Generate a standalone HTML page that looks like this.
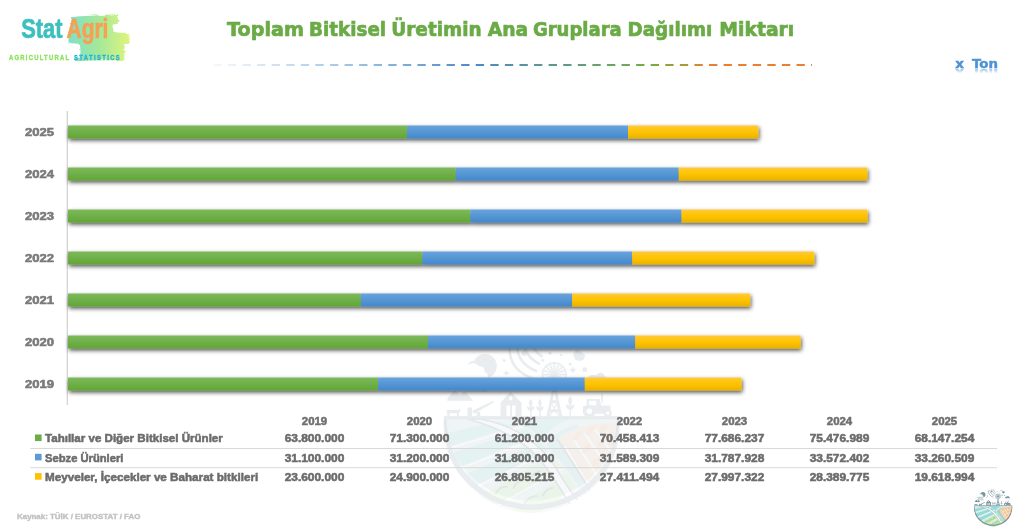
<!DOCTYPE html>
<html lang="tr">
<head>
<meta charset="utf-8">
<title>Toplam Bitkisel Üretimin Ana Gruplara Dağılımı Miktarı</title>
<style>
html,body{margin:0;padding:0;background:#fff;}
body{width:1024px;height:532px;overflow:hidden;position:relative;font-family:"DejaVu Sans", "Liberation Sans", sans-serif;}
svg{position:absolute;left:0;top:0;display:block;}
text{font-family:"DejaVu Sans", "Liberation Sans", sans-serif;font-weight:bold;}
.lib{font-family:"Liberation Sans", sans-serif;}
</style>
</head>
<body>
<svg width="1024" height="532" viewBox="0 0 1024 532">
<defs>
<linearGradient id="gG" x1="0" y1="0" x2="0" y2="1"><stop offset="0" stop-color="#7db95b"/><stop offset="1" stop-color="#61a636"/></linearGradient>
<linearGradient id="gB" x1="0" y1="0" x2="0" y2="1"><stop offset="0" stop-color="#68a4dd"/><stop offset="1" stop-color="#4388cb"/></linearGradient>
<linearGradient id="gY" x1="0" y1="0" x2="0" y2="1"><stop offset="0" stop-color="#ffc937"/><stop offset="0.5" stop-color="#ffc400"/><stop offset="1" stop-color="#e9b100"/></linearGradient>
<linearGradient id="gLine" gradientUnits="userSpaceOnUse" x1="212" y1="0" x2="812" y2="0">
<stop offset="0" stop-color="#5b9bd5" stop-opacity="0.06"/>
<stop offset="0.44" stop-color="#4a8ac9" stop-opacity="1"/>
<stop offset="0.725" stop-color="#70ad47"/>
<stop offset="0.785" stop-color="#a89a35"/>
<stop offset="0.825" stop-color="#ed7d31"/>
<stop offset="1" stop-color="#ed7d31"/>
</linearGradient>
<linearGradient id="gBrush" x1="0" y1="0" x2="1" y2="0"><stop offset="0" stop-color="#7fe0c8"/><stop offset="0.5" stop-color="#a5e89a"/><stop offset="1" stop-color="#def57c"/></linearGradient>
<filter id="sh" x="-5%" y="-60%" width="110%" height="240%"><feGaussianBlur in="SourceAlpha" stdDeviation="2.1"/><feOffset dx="0.7" dy="1.9" result="o"/><feComponentTransfer><feFuncA type="linear" slope="0.68"/></feComponentTransfer><feMerge><feMergeNode/><feMergeNode in="SourceGraphic"/></feMerge></filter>
<filter id="rough" x="-5%" y="-5%" width="110%" height="110%"><feTurbulence type="fractalNoise" baseFrequency="0.09 0.35" numOctaves="2" seed="7" result="n"/><feDisplacementMap in="SourceGraphic" in2="n" scale="3" xChannelSelector="R" yChannelSelector="G"/></filter>
<linearGradient id="gRef" x1="0" y1="0" x2="0" y2="1"><stop offset="0" stop-color="#fff" stop-opacity="0.6"/><stop offset="0.45" stop-color="#fff" stop-opacity="0"/></linearGradient>
<mask id="mRef"><rect x="940" y="68.6" width="80" height="11" fill="url(#gRef)"/></mask>

<symbol id="emblem" viewBox="0 0 200 200">
<clipPath id="cAll"><circle cx="100" cy="100" r="96"/></clipPath>
<clipPath id="cLow"><path d="M0 94 H200 V200 H0 Z"/></clipPath>
<g clip-path="url(#cAll)">
<g fill="#6f8a96" stroke="none">
<!-- moon with cloud, upper left -->
<circle cx="49" cy="36" r="13"/>
<path d="M18 50 q-5 -1 -3 -6 q1 -5 7 -4 q2 -8 10 -7 q6 -4 11 2 q7 0 7 7 q5 2 3 8 z" fill="#fff" stroke="#6f8a96" stroke-width="2.4"/>
<path d="M22 62 q3 -8 11 -6 q6 -5 11 1 q6 0 6 6 z" fill="#fff" stroke="#6f8a96" stroke-width="2.2"/>
<!-- hills / trees left -->
<path d="M6 74 L16 62 L22 68 L27 63 L36 74 Z"/>
<!-- circles and cloud right -->
<circle cx="152" cy="24" r="6.500"/>
<circle cx="158" cy="40" r="2.600"/>
<path d="M160 52 q2 -8 10 -6 q5 -6 11 0 q7 0 7 7 q0 2 -2 2 h-26z"/>
<path d="M136 14 h10 v2.400 h-10z"/>
<!-- swirl arcs -->
<g fill="none" stroke="#6f8a96" stroke-width="2.800">
<path d="M76 16 q-1 24 26 34"/>
<path d="M84 13 q0 20 22 29"/>
<path d="M92 11 q1 15 17 23"/>
<path d="M100 10 q2 10 12 16"/>
</g>
<circle cx="92" cy="22" r="3"/>
<!-- stars -->
<circle cx="120" cy="22" r="1.800"/><circle cx="112" cy="30" r="1.500"/><circle cx="70" cy="30" r="1.600"/><circle cx="142" cy="34" r="1.600"/><circle cx="66" cy="52" r="1.800"/><circle cx="132" cy="24" r="1.400"/><circle cx="148" cy="52" r="1.500"/><circle cx="74" cy="44" r="1.300"/>
<path d="M145 36 l1.200 3 l3 1.200 l-3 1.200 l-1.200 3 l-1.200 -3 l-3 -1.200 l3 -1.200z M72 40 l1 2.600 l2.600 1 l-2.600 1 l-1 2.600 l-1 -2.600 l-2.600 -1 l2.600 -1z"/>
<!-- barn -->
<path d="M66 92 V76 L77 64 L89 76 V92 Z"/>
<rect x="72.500" y="79" width="4" height="13" fill="#fff"/><rect x="78.500" y="79" width="4" height="13" fill="#fff"/>
<rect x="75.500" y="69" width="3.400" height="4.400" fill="#fff"/>
<!-- farmer with plough + cow -->
<path d="M7 84 h13 l2 -1.500 v4 h-1.500 v5.500 h-2 v-4.500 h-8 v4.500 h-2 z"/>
<path d="M30 92 v-9 q2 -4 5 -1 v10z M35 85 L58 74 L59 75.500 L37 88Z M40 86 h4 v6 h-4z"/>
<!-- wheat stalks -->
<g>
<rect x="98.300" y="78" width="1.600" height="14"/><path d="M99 72 q4 4 0 9 q-4 -5 0 -9z M95 80 q4 0 4 5 q-4 0 -4 -5z M103 80 q-4 0 -4 5 q4 0 4 -5z"/>
<rect x="108.300" y="78" width="1.600" height="14"/><path d="M109 72 q4 4 0 9 q-4 -5 0 -9z M105 80 q4 0 4 5 q-4 0 -4 -5z M113 80 q-4 0 -4 5 q4 0 4 -5z"/>
<rect x="141.300" y="76" width="1.600" height="16"/><path d="M142 69 q4.500 5 0 10 q-4.500 -5 0 -10z M137.500 78 q4.500 0 4.500 5.500 q-4.500 0 -4.500 -5.500z M146.500 78 q-4.500 0 -4.500 5.500 q4.500 0 4.500 -5.500z"/>
</g>
<!-- windmill -->
<path d="M116 92 L123 58 H126.500 L133.500 92 H130.500 L124.750 64 L119 92Z"/>
<path d="M118.500 84 H131 V86 H118.500z M120.500 74 H129 V76 H120.500z M119 92 L129 75 M130.500 92 L120.500 75" stroke="#6f8a96" stroke-width="1.200"/>
<circle cx="124.750" cy="45.500" r="13" fill="#d9f1ef" stroke="#6f8a96" stroke-width="1.600"/>
<path d="M124.750 32.500 V58.500 M111.750 45.500 H137.750 M115.550 36.300 L133.950 54.700 M133.950 36.300 L115.550 54.700 M119.800 33.500 L129.700 57.500 M129.700 33.500 L119.800 57.500 M112.750 40.500 L136.750 50.500 M136.750 40.500 L112.750 50.500" stroke="#6f8a96" stroke-width="1.300"/>
<circle cx="124.750" cy="45.500" r="3"/>
<!-- tractor -->
<path d="M156 88 V80 L160 79 V72 H174 L176 79 H186 V88Z"/>
<rect x="162.500" y="74" width="8" height="5" fill="#fff"/>
<circle cx="163" cy="85.500" r="7"/><circle cx="163" cy="85.500" r="3" fill="#fff"/>
<circle cx="183" cy="87.500" r="4.500"/><circle cx="183" cy="87.500" r="1.800" fill="#fff"/>
<rect x="176" y="66" width="1.800" height="10"/>
</g>
<!-- horizon -->
<rect x="0" y="90.500" width="200" height="3.800" fill="#6f8a96"/>
<!-- fields -->
<g clip-path="url(#cLow)">
<rect x="0" y="94" width="200" height="106" fill="#d3e5e4"/>
<g fill="#8ad9d3">
<path d="M4 110 L60 97 L84 101 L8 124Z"/>
<path d="M10 132 L94 105 L104 112 L18 148Z"/>
<path d="M24 156 L110 119 L118 127 L36 170Z"/>
</g>
<g fill="none" stroke="#fff" stroke-width="2.400">
<path d="M6 127 L90 102 M14 151 L106 115 M30 172 L120 130"/>
</g>
<g fill="#b4e596">
<path d="M44 178 L122 134 L132 146 L64 190Z"/>
<path d="M76 196 L138 154 L148 168 L104 200Z"/>
</g>
<g fill="none" stroke="#6f8a96" stroke-width="1.800">
<path d="M60 176 q6 -10 14 -8 M80 170 q4 -10 12 -10 M98 160 q4 -9 12 -9 M92 186 q6 -9 14 -8 M112 178 q4 -9 12 -9"/>
</g>
<g fill="none" stroke="#fff" stroke-width="2.200"><path d="M56 192 L134 148"/></g>
<!-- road -->
<path d="M44 94 Q100 104 128 150 T168 200 L150 200 Q136 176 118 150 Q92 110 30 94Z" fill="#fff" stroke="#6f8a96" stroke-width="1.600"/>
<!-- strip right of road -->
<path d="M70 94 L140 94 Q118 104 112 116 Q96 100 70 94Z" fill="#8ad9d3"/>
<path d="M116 122 Q128 104 150 100 L196 186 L170 198 Q150 160 116 122Z" fill="#8ad9d3" opacity="0.850"/>
<!-- wheat -->
<path d="M128 116 Q150 96 200 98 V170 L176 190 Z" fill="#f5cfa6"/>
<g fill="none" stroke="#fff" stroke-width="2.400">
<path d="M136 124 L168 176 M146 116 L182 172 M158 110 L192 160 M170 106 L198 146"/>
</g>
<g fill="#efb47c">
<ellipse cx="150" cy="112" rx="6.500" ry="2.800" transform="rotate(-50 150 112)"/>
<ellipse cx="164" cy="106" rx="6.500" ry="2.800" transform="rotate(-50 164 106)"/>
<ellipse cx="178" cy="104" rx="6.500" ry="2.800" transform="rotate(-50 178 104)"/>
<ellipse cx="160" cy="126" rx="6.500" ry="2.800" transform="rotate(-50 160 126)"/>
<ellipse cx="176" cy="120" rx="6.500" ry="2.800" transform="rotate(-50 176 120)"/>
<ellipse cx="188" cy="118" rx="6.500" ry="2.800" transform="rotate(-50 188 118)"/>
<ellipse cx="170" cy="140" rx="6.500" ry="2.800" transform="rotate(-50 170 140)"/>
<ellipse cx="184" cy="134" rx="6.500" ry="2.800" transform="rotate(-50 184 134)"/>
<ellipse cx="178" cy="156" rx="6.500" ry="2.800" transform="rotate(-50 178 156)"/>
</g>
<path d="M128 116 L176 190" fill="none" stroke="#6f8a96" stroke-width="2"/>
<path d="M4 94 A96 96 0 0 0 196 94" fill="none" stroke="#6f8a96" stroke-width="6"/>
</g>
</g>
</symbol>

</defs>
<path d="M443.9 418.5 A88 88 0 0 0 619.5 418.5 Z" fill="#6f8a96" opacity="0.07"/>
<use href="#emblem" x="440" y="333" width="183.3" height="183.3" opacity="0.15"/>
<g id="logo">
<path filter="url(#rough)" d="M71 17.2 L80 16.3 L95 15.4 L110 14.6 L118.2 14 L117.8 18 L118.5 21 L117.2 23.6 L113 24.4 L112.4 27 L114 29 L113 31.2 L117 32.6 L129 33 L130 36 L129.5 40 L128 43.4 L124 44 L124.8 48 L124.2 55 L124.5 60 L110 60.2 L90 60.5 L80 61 L74.5 61.2 L74.8 58.2 L80 57.6 L80.5 52 L80 44 L75 43.5 L68.3 43 L68.5 37 L70.5 36 L71 28 Z" fill="url(#gBrush)"/>
<text x="21.2" y="37.7" font-size="27.2" fill="#3dbfc0" stroke="#3dbfc0" stroke-width="0.7" stroke-linejoin="round" textLength="41.4" lengthAdjust="spacingAndGlyphs" class="lib">Stat</text>
<text x="66.6" y="37.7" font-size="27.2" fill="#f5a155" stroke="#f5a155" stroke-width="0.7" stroke-linejoin="round" textLength="41.8" lengthAdjust="spacingAndGlyphs" class="lib">Agri</text>
<g transform="translate(9,60) scale(0.76,1)"><text x="0" y="0" font-size="7.7" letter-spacing="1.68" fill="#86e255" stroke="#86e255" stroke-width="0.3" class="lib">AGRICULTURAL</text></g>
<g transform="translate(74,60) scale(0.76,1)"><text x="0" y="0" font-size="7.7" letter-spacing="1.82" fill="#1fb0dc" stroke="#1fb0dc" stroke-width="0.3" class="lib">STATISTICS</text></g>
</g>
<text y="35.5" font-size="19.9" fill="#6aab46" stroke="#6aab46" stroke-width="0.7"><tspan x="227.10" textLength="76.80" lengthAdjust="spacingAndGlyphs">Toplam</tspan> <tspan x="309.10" textLength="77.00" lengthAdjust="spacingAndGlyphs">Bitkisel</tspan> <tspan x="391.30" textLength="90.40" lengthAdjust="spacingAndGlyphs">Üretimin</tspan> <tspan x="487.70" textLength="40.60" lengthAdjust="spacingAndGlyphs">Ana</tspan> <tspan x="532.90" textLength="88.80" lengthAdjust="spacingAndGlyphs">Gruplara</tspan> <tspan x="627.50" textLength="84.80" lengthAdjust="spacingAndGlyphs">Dağılımı</tspan> <tspan x="719.30" textLength="75.00" lengthAdjust="spacingAndGlyphs">Miktarı</tspan></text>
<line x1="213.3" y1="65" x2="812" y2="65" stroke="url(#gLine)" stroke-width="2.08" stroke-dasharray="8.33 6.25"/>
<text y="68" font-size="12.4" fill="#4f93d4" stroke="#4f93d4" stroke-width="0.45"><tspan x="955.3" textLength="8.7" lengthAdjust="spacingAndGlyphs">x</tspan> <tspan x="972" textLength="26" lengthAdjust="spacingAndGlyphs">Ton</tspan></text>
<g mask="url(#mRef)"><g transform="translate(0,137.4) scale(1,-1)"><text y="68" font-size="12.4" fill="#4f93d4" stroke="#4f93d4" stroke-width="0.45"><tspan x="955.3" textLength="8.7" lengthAdjust="spacingAndGlyphs">x</tspan> <tspan x="972" textLength="26" lengthAdjust="spacingAndGlyphs">Ton</tspan></text></g></g>
<rect x="66.7" y="111" width="1.3" height="294" fill="#d4d4d4"/>
<g filter="url(#sh)">
<rect x="68.0" y="125.5" width="339.1" height="13" fill="url(#gG)"/>
<rect x="407.1" y="125.5" width="220.9" height="13" fill="url(#gB)"/>
<rect x="628.0" y="125.5" width="130.3" height="13" fill="url(#gY)"/>
</g>
<text x="25" y="136.2" font-size="11.4" fill="#7a7a7a" stroke="#7a7a7a" stroke-width="0.6" textLength="29" lengthAdjust="spacingAndGlyphs" class="lib">2025</text>
<g filter="url(#sh)">
<rect x="68.0" y="167.5" width="387.7" height="13" fill="url(#gG)"/>
<rect x="455.7" y="167.5" width="223.0" height="13" fill="url(#gB)"/>
<rect x="678.7" y="167.5" width="188.6" height="13" fill="url(#gY)"/>
</g>
<text x="25" y="178.2" font-size="11.4" fill="#7a7a7a" stroke="#7a7a7a" stroke-width="0.6" textLength="29" lengthAdjust="spacingAndGlyphs" class="lib">2024</text>
<g filter="url(#sh)">
<rect x="68.0" y="209.5" width="402.4" height="13" fill="url(#gG)"/>
<rect x="470.4" y="209.5" width="211.1" height="13" fill="url(#gB)"/>
<rect x="681.5" y="209.5" width="186.0" height="13" fill="url(#gY)"/>
</g>
<text x="25" y="220.2" font-size="11.4" fill="#7a7a7a" stroke="#7a7a7a" stroke-width="0.6" textLength="29" lengthAdjust="spacingAndGlyphs" class="lib">2023</text>
<g filter="url(#sh)">
<rect x="68.0" y="251.5" width="354.4" height="13" fill="url(#gG)"/>
<rect x="422.4" y="251.5" width="209.8" height="13" fill="url(#gB)"/>
<rect x="632.2" y="251.5" width="182.1" height="13" fill="url(#gY)"/>
</g>
<text x="25" y="262.2" font-size="11.4" fill="#7a7a7a" stroke="#7a7a7a" stroke-width="0.6" textLength="29" lengthAdjust="spacingAndGlyphs" class="lib">2022</text>
<g filter="url(#sh)">
<rect x="68.0" y="293.5" width="292.9" height="13" fill="url(#gG)"/>
<rect x="360.9" y="293.5" width="211.2" height="13" fill="url(#gB)"/>
<rect x="572.1" y="293.5" width="178.0" height="13" fill="url(#gY)"/>
</g>
<text x="25" y="304.2" font-size="11.4" fill="#7a7a7a" stroke="#7a7a7a" stroke-width="0.6" textLength="29" lengthAdjust="spacingAndGlyphs" class="lib">2021</text>
<g filter="url(#sh)">
<rect x="68.0" y="335.5" width="360.0" height="13" fill="url(#gG)"/>
<rect x="428.0" y="335.5" width="207.2" height="13" fill="url(#gB)"/>
<rect x="635.2" y="335.5" width="165.4" height="13" fill="url(#gY)"/>
</g>
<text x="25" y="346.2" font-size="11.4" fill="#7a7a7a" stroke="#7a7a7a" stroke-width="0.6" textLength="29" lengthAdjust="spacingAndGlyphs" class="lib">2020</text>
<g filter="url(#sh)">
<rect x="68.0" y="377.5" width="310.2" height="13" fill="url(#gG)"/>
<rect x="378.2" y="377.5" width="206.6" height="13" fill="url(#gB)"/>
<rect x="584.7" y="377.5" width="156.8" height="13" fill="url(#gY)"/>
</g>
<text x="25" y="388.2" font-size="11.4" fill="#7a7a7a" stroke="#7a7a7a" stroke-width="0.6" textLength="29" lengthAdjust="spacingAndGlyphs" class="lib">2019</text>
<text x="301.8" y="425" font-size="11.4" fill="#707070" stroke="#707070" stroke-width="0.55" textLength="25.4" lengthAdjust="spacingAndGlyphs" class="lib">2019</text>
<text x="284.7" y="442.0" font-size="11.4" fill="#6c6c6c" stroke="#6c6c6c" stroke-width="0.55" textLength="59.6" lengthAdjust="spacingAndGlyphs" class="lib">63.800.000</text>
<text x="284.7" y="461.8" font-size="11.4" fill="#6c6c6c" stroke="#6c6c6c" stroke-width="0.55" textLength="59.6" lengthAdjust="spacingAndGlyphs" class="lib">31.100.000</text>
<text x="284.7" y="480.6" font-size="11.4" fill="#6c6c6c" stroke="#6c6c6c" stroke-width="0.55" textLength="59.6" lengthAdjust="spacingAndGlyphs" class="lib">23.600.000</text>
<text x="406.8" y="425" font-size="11.4" fill="#707070" stroke="#707070" stroke-width="0.55" textLength="25.4" lengthAdjust="spacingAndGlyphs" class="lib">2020</text>
<text x="389.7" y="442.0" font-size="11.4" fill="#6c6c6c" stroke="#6c6c6c" stroke-width="0.55" textLength="59.6" lengthAdjust="spacingAndGlyphs" class="lib">71.300.000</text>
<text x="389.7" y="461.8" font-size="11.4" fill="#6c6c6c" stroke="#6c6c6c" stroke-width="0.55" textLength="59.6" lengthAdjust="spacingAndGlyphs" class="lib">31.200.000</text>
<text x="389.7" y="480.6" font-size="11.4" fill="#6c6c6c" stroke="#6c6c6c" stroke-width="0.55" textLength="59.6" lengthAdjust="spacingAndGlyphs" class="lib">24.900.000</text>
<text x="511.8" y="425" font-size="11.4" fill="#707070" stroke="#707070" stroke-width="0.55" textLength="25.4" lengthAdjust="spacingAndGlyphs" class="lib">2021</text>
<text x="494.7" y="442.0" font-size="11.4" fill="#6c6c6c" stroke="#6c6c6c" stroke-width="0.55" textLength="59.6" lengthAdjust="spacingAndGlyphs" class="lib">61.200.000</text>
<text x="494.7" y="461.8" font-size="11.4" fill="#6c6c6c" stroke="#6c6c6c" stroke-width="0.55" textLength="59.6" lengthAdjust="spacingAndGlyphs" class="lib">31.800.000</text>
<text x="494.7" y="480.6" font-size="11.4" fill="#6c6c6c" stroke="#6c6c6c" stroke-width="0.55" textLength="59.6" lengthAdjust="spacingAndGlyphs" class="lib">26.805.215</text>
<text x="616.8" y="425" font-size="11.4" fill="#707070" stroke="#707070" stroke-width="0.55" textLength="25.4" lengthAdjust="spacingAndGlyphs" class="lib">2022</text>
<text x="599.7" y="442.0" font-size="11.4" fill="#6c6c6c" stroke="#6c6c6c" stroke-width="0.55" textLength="59.6" lengthAdjust="spacingAndGlyphs" class="lib">70.458.413</text>
<text x="599.7" y="461.8" font-size="11.4" fill="#6c6c6c" stroke="#6c6c6c" stroke-width="0.55" textLength="59.6" lengthAdjust="spacingAndGlyphs" class="lib">31.589.309</text>
<text x="599.7" y="480.6" font-size="11.4" fill="#6c6c6c" stroke="#6c6c6c" stroke-width="0.55" textLength="59.6" lengthAdjust="spacingAndGlyphs" class="lib">27.411.494</text>
<text x="721.8" y="425" font-size="11.4" fill="#707070" stroke="#707070" stroke-width="0.55" textLength="25.4" lengthAdjust="spacingAndGlyphs" class="lib">2023</text>
<text x="704.7" y="442.0" font-size="11.4" fill="#6c6c6c" stroke="#6c6c6c" stroke-width="0.55" textLength="59.6" lengthAdjust="spacingAndGlyphs" class="lib">77.686.237</text>
<text x="704.7" y="461.8" font-size="11.4" fill="#6c6c6c" stroke="#6c6c6c" stroke-width="0.55" textLength="59.6" lengthAdjust="spacingAndGlyphs" class="lib">31.787.928</text>
<text x="704.7" y="480.6" font-size="11.4" fill="#6c6c6c" stroke="#6c6c6c" stroke-width="0.55" textLength="59.6" lengthAdjust="spacingAndGlyphs" class="lib">27.997.322</text>
<text x="826.8" y="425" font-size="11.4" fill="#707070" stroke="#707070" stroke-width="0.55" textLength="25.4" lengthAdjust="spacingAndGlyphs" class="lib">2024</text>
<text x="809.7" y="442.0" font-size="11.4" fill="#6c6c6c" stroke="#6c6c6c" stroke-width="0.55" textLength="59.6" lengthAdjust="spacingAndGlyphs" class="lib">75.476.989</text>
<text x="809.7" y="461.8" font-size="11.4" fill="#6c6c6c" stroke="#6c6c6c" stroke-width="0.55" textLength="59.6" lengthAdjust="spacingAndGlyphs" class="lib">33.572.402</text>
<text x="809.7" y="480.6" font-size="11.4" fill="#6c6c6c" stroke="#6c6c6c" stroke-width="0.55" textLength="59.6" lengthAdjust="spacingAndGlyphs" class="lib">28.389.775</text>
<text x="931.8" y="425" font-size="11.4" fill="#707070" stroke="#707070" stroke-width="0.55" textLength="25.4" lengthAdjust="spacingAndGlyphs" class="lib">2025</text>
<text x="914.7" y="442.0" font-size="11.4" fill="#6c6c6c" stroke="#6c6c6c" stroke-width="0.55" textLength="59.6" lengthAdjust="spacingAndGlyphs" class="lib">68.147.254</text>
<text x="914.7" y="461.8" font-size="11.4" fill="#6c6c6c" stroke="#6c6c6c" stroke-width="0.55" textLength="59.6" lengthAdjust="spacingAndGlyphs" class="lib">33.260.509</text>
<text x="914.7" y="480.6" font-size="11.4" fill="#6c6c6c" stroke="#6c6c6c" stroke-width="0.55" textLength="59.6" lengthAdjust="spacingAndGlyphs" class="lib">19.618.994</text>
<rect x="30.4" y="448" width="966.6" height="1" fill="#d9d9d9"/>
<rect x="30.4" y="467.2" width="966.6" height="1" fill="#d9d9d9"/>
<rect x="35" y="434.5" width="6.6" height="6.6" fill="#6bac45"/>
<text x="45" y="442.2" font-size="11.6" fill="#6c6c6c" stroke="#6c6c6c" stroke-width="0.55" textLength="177.8" lengthAdjust="spacingAndGlyphs" class="lib">Tahıllar ve Diğer Bitkisel Ürünler</text>
<rect x="35" y="453.8" width="6.6" height="6.6" fill="#5b9bd5"/>
<text x="45" y="461.5" font-size="11.6" fill="#6c6c6c" stroke="#6c6c6c" stroke-width="0.55" textLength="78.4" lengthAdjust="spacingAndGlyphs" class="lib">Sebze Ürünleri</text>
<rect x="35" y="473.1" width="6.6" height="6.6" fill="#ffc000"/>
<text x="45" y="480.8" font-size="11.6" fill="#6c6c6c" stroke="#6c6c6c" stroke-width="0.55" textLength="213.2" lengthAdjust="spacingAndGlyphs" class="lib">Meyveler, İçecekler ve Baharat bitkileri</text>
<text x="17.0" y="519.2" font-size="7.9" fill="#c2c2c2" stroke="#c2c2c2" stroke-width="0.4" textLength="123.4" lengthAdjust="spacingAndGlyphs" class="lib">Kaynak: TÜİK / EUROSTAT / FAO</text>
<use href="#emblem" x="973.1" y="487.3" width="40" height="40" opacity="0.92"/>
</svg>
</body>
</html>
